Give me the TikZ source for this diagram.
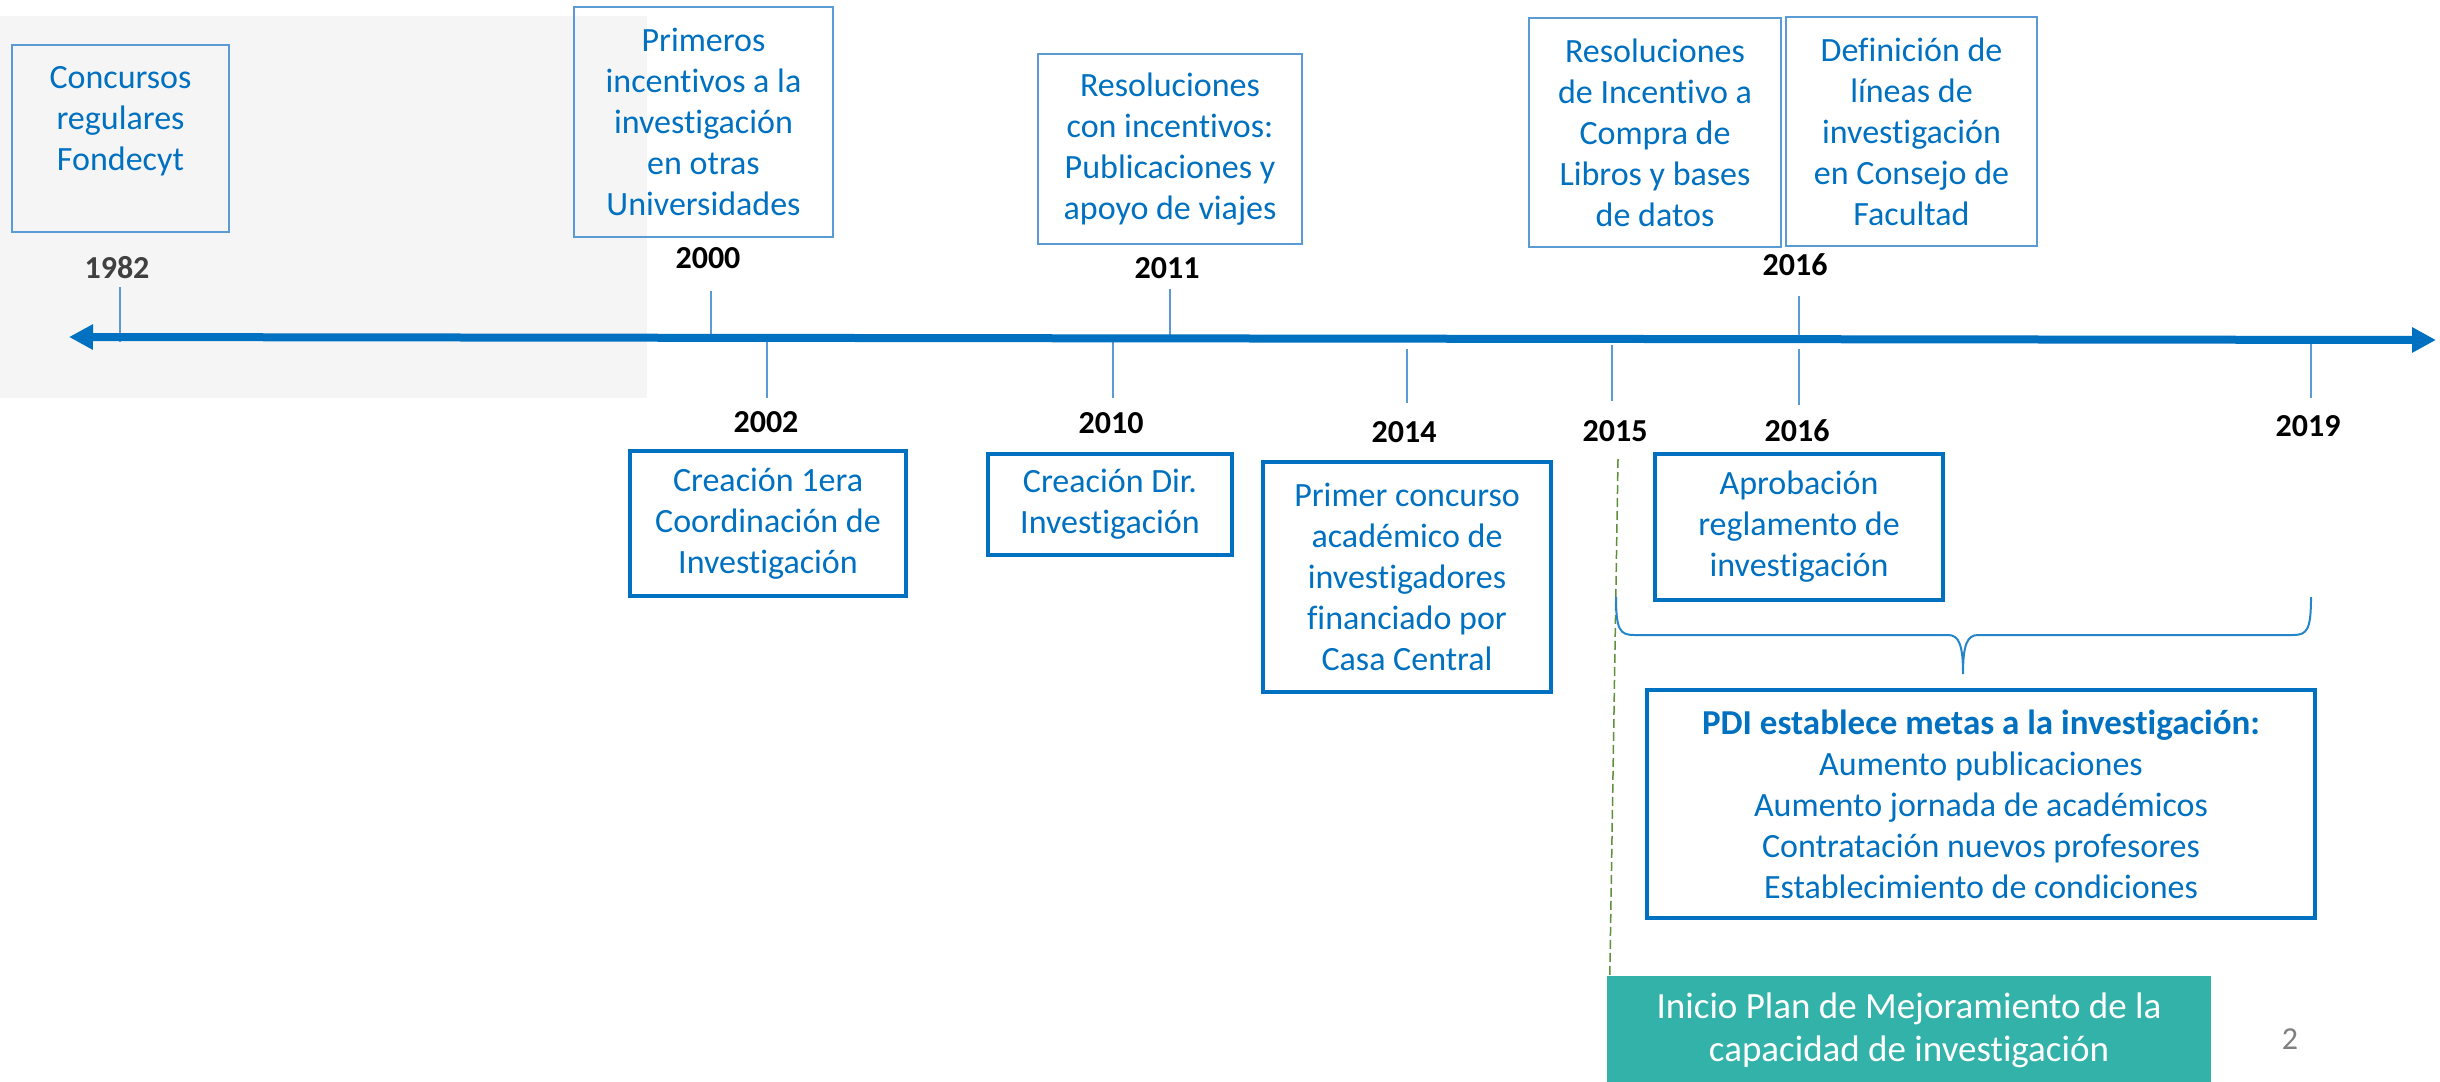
\documentclass[tikz,border=0pt]{standalone}
\usepackage{fontspec}
\setmainfont{Carlito}[Ligatures=NoCommon]
\usetikzlibrary{arrows.meta}
\definecolor{mblue}{HTML}{0070C0}
\definecolor{lblue}{HTML}{5B9BD5}
\definecolor{bgray}{HTML}{F5F5F5}
\definecolor{tealbox}{HTML}{33B2A9}
\definecolor{dgreen}{HTML}{5E8F3A}
\definecolor{pgray}{HTML}{7F7F7F}
\begin{document}
\begin{tikzpicture}[x=1pt,y=-1pt,
  txt/.style={font=\fontsize{34}{41}\selectfont, text=mblue, align=center, inner sep=0pt},
  topbox/.style={txt, draw=lblue, line width=2pt},
  botbox/.style={txt, draw=mblue, line width=4pt},
  year/.style={font=\fontsize{32}{38}\selectfont\bfseries, inner sep=0pt},
  tickline/.style={draw=lblue, line width=1.6pt},
]
\useasboundingbox (0,0) rectangle (2440,1081);
\fill[bgray] (0,16) rectangle (647,398);

% timeline
\coordinate (axl) at (69,337);
\coordinate (axr) at (2436,340);

% ticks
\coordinate (t1982a) at (120,287);  \coordinate (t1982b) at (120,342);
\coordinate (t2000a) at (711,291);  \coordinate (t2000b) at (711,336);
\coordinate (t2011a) at (1170,289); \coordinate (t2011b) at (1170,337);
\coordinate (t2016a) at (1799,296); \coordinate (t2016b) at (1799,338);
\coordinate (t2002a) at (767,341);  \coordinate (t2002b) at (767,398);
\coordinate (t2010a) at (1113,341); \coordinate (t2010b) at (1113,398);
\coordinate (t2014a) at (1407,349); \coordinate (t2014b) at (1407,403);
\coordinate (t2015a) at (1612,345); \coordinate (t2015b) at (1612,401);
\coordinate (t2016c) at (1799,349); \coordinate (t2016d) at (1799,405);
\coordinate (t2019a) at (2311,342); \coordinate (t2019b) at (2311,398);
\foreach \a/\b in {t1982a/t1982b,t2000a/t2000b,t2011a/t2011b,t2016a/t2016b,t2002a/t2002b,t2010a/t2010b,t2014a/t2014b,t2015a/t2015b,t2016c/t2016d,t2019a/t2019b}
  \draw[tickline] (\a) -- (\b);

\draw[draw=mblue, line width=8pt, {Triangle[length=24pt,width=24pt]}-{Triangle[length=24pt,width=24pt]}] (axl) -- (axr);

% year labels
\node[year, text=black!75] (y1982) at (117,268) {1982};
\node[year] (y2000) at (708,258) {2000};
\node[year] (y2011) at (1167,268) {2011};
\node[year] (y2016a) at (1795,265) {2016};
\node[year] (y2002) at (766,422) {2002};
\node[year] (y2010) at (1111,423) {2010};
\node[year] (y2014) at (1404,432) {2014};
\node[year] (y2015) at (1615,431) {2015};
\node[year] (y2016b) at (1797,431) {2016};
\node[year] (y2019) at (2308,426) {2019};

% top boxes
\node[topbox, minimum width=217pt, minimum height=187pt] (b1982) at (120.5,138.5) {Concursos\\regulares\\Fondecyt\\\mbox{}};
\node[topbox, minimum width=259pt, minimum height=230pt] (b2000) at (703.5,122) {Primeros\\incentivos a la\\investigación\\en otras\\Universidades};
\node[topbox, minimum width=264pt, minimum height=190pt] (b2011) at (1170,149) {Resoluciones\\con incentivos:\\Publicaciones y\\apoyo de viajes};
\node[topbox, minimum width=252pt, minimum height=229pt] (b2016a) at (1655,132.5) {Resoluciones\\de Incentivo a\\Compra de\\Libros y bases\\de datos};
\node[topbox, minimum width=251pt, minimum height=229pt] (b2016b) at (1911.5,131.5) {Definición de\\líneas de\\investigación\\en Consejo de\\Facultad};

% bottom boxes
\node[botbox, minimum width=276pt, minimum height=145pt] (b2002) at (768,523.5) {Creación 1era\\Coordinación de\\Investigación};
\node[botbox, minimum width=244pt, minimum height=101pt] (b2010) at (1110,504.5) {Creación Dir.\\Investigación};
\node[botbox, minimum width=288pt, minimum height=230pt] (b2014) at (1407,577) {Primer concurso\\académico de\\investigadores\\financiado por\\Casa Central};
\node[botbox, minimum width=288pt, minimum height=146pt] (b2016c) at (1799,527) {Aprobación\\reglamento de\\investigación};
\node[botbox, minimum width=668pt, minimum height=228pt] (bpdi) at (1981,804) {{\fontsize{35}{41}\selectfont\bfseries PDI establece metas a la investigación:}\\Aumento publicaciones\\Aumento jornada de académicos\\Contratación nuevos profesores\\Establecimiento de condiciones};

% teal box
\node[fill=tealbox, text=white, align=center, inner sep=0pt, minimum width=604pt, minimum height=109pt,
  font=\fontsize{37}{43}\selectfont] (plan) at (1909,1030.5) {Inicio Plan de Mejoramiento de la\\capacidad de investigación};

% dashed line 2015
\coordinate (d15) at (1618,459);
\draw[dgreen, line width=1.5pt, dash pattern=on 9pt off 4pt] (d15) -- ([xshift=3pt]plan.north west);

% brace
\coordinate (brl) at (1616,597);
\coordinate (brr) at (2311,597);
\coordinate (brt) at (1963,674);
\draw[draw=mblue!85, line width=2pt]
  (brl) .. controls (1616,630) and (1620,635) .. (1634,635) -- (1948,635)
  .. controls (1959,635) and (1963,645) .. (brt)
  .. controls (1963,645) and (1967,635) .. (1978,635) -- (2293,635)
  .. controls (2307,635) and (2311,630) .. (brr);

% page number
\node[font=\fontsize{32}{38}\selectfont, text=pgray, inner sep=0pt] (pnum) at (2290,1039) {2};
\end{tikzpicture}
\end{document}
